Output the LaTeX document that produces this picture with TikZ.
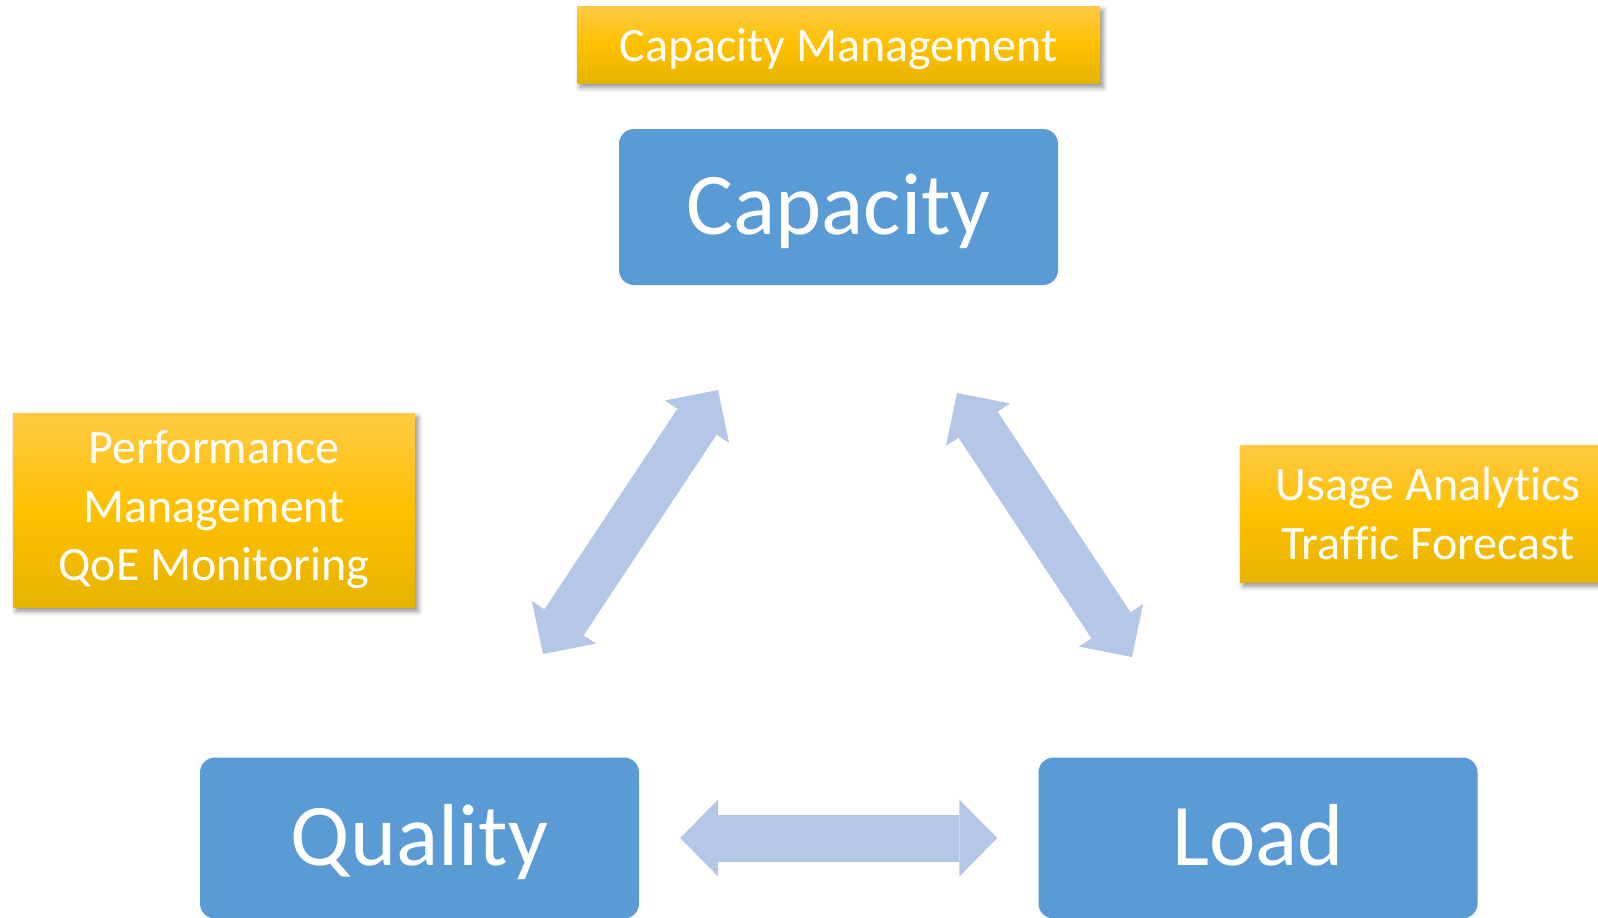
\documentclass[tikz,border=0pt]{standalone}
\usepackage{fontspec}
\setmainfont{Carlito}[Ligatures=NoCommon]
\usetikzlibrary{arrows.meta,shadows.blur}

\definecolor{boxblue}{HTML}{5B9BD5}
\definecolor{arrowblue}{HTML}{B4C7E7}
\definecolor{goldtop}{HTML}{FFCA45}
\definecolor{goldmid}{HTML}{FFC000}
\definecolor{goldbot}{HTML}{E6B400}

\begin{document}
\begin{tikzpicture}[x=1pt, y=-1pt,
  block/.style={fill=boxblue, rounded corners=15pt, text=white, inner sep=0pt,
    minimum width=439pt, font=\fontsize{88}{106}\selectfont, text height=64pt, text depth=10pt},
  task/.style={top color=goldtop, bottom color=goldbot, middle color=goldmid,
    text=white, inner sep=0pt, align=center, font=\fontsize{48}{58.5}\selectfont,
    blur shadow={shadow xshift=3pt, shadow yshift=-4pt, shadow blur radius=5pt, shadow opacity=45}},
  link/.style={arrowblue, line width=47pt, {Triangle[length=38pt, width=77pt, line width=0pt]}-{Triangle[length=38pt, width=77pt, line width=0pt]}}]

\useasboundingbox (0,0) rectangle (1598,918);
\clip (0,0) rectangle (1598,918);

\node[block, minimum height=156pt] (cap) at (838.5,207) {Capacity};
\node[block, minimum height=161pt] (qual) at (419.5,838) {Quality};
\node[block, minimum height=161pt] (load) at (1258,838) {Load};

\node[task, minimum width=523pt, minimum height=77pt, text height=44pt, text depth=10pt] (capmgmt) at (838.5,44.7) {Capacity Management};
\node[task, minimum width=402pt, minimum height=194pt] (perf) at (214,510) {Performance\\Management\\QoE Monitoring};
\node[task, minimum width=376pt, minimum height=137pt] (usage) at (1428,513.5) {Usage Analytics\\Traffic Forecast};

\coordinate (qc1) at (543,654);
\coordinate (qc2) at (718,390);
\coordinate (cl1) at (957,393);
\coordinate (cl2) at (1132,657);

\draw[link] (qc1) -- (qc2);
\draw[link] (cl1) -- (cl2);
\draw[link] ([xshift=41pt]qual.east) -- ([xshift=-41pt]load.west);

\end{tikzpicture}
\end{document}
